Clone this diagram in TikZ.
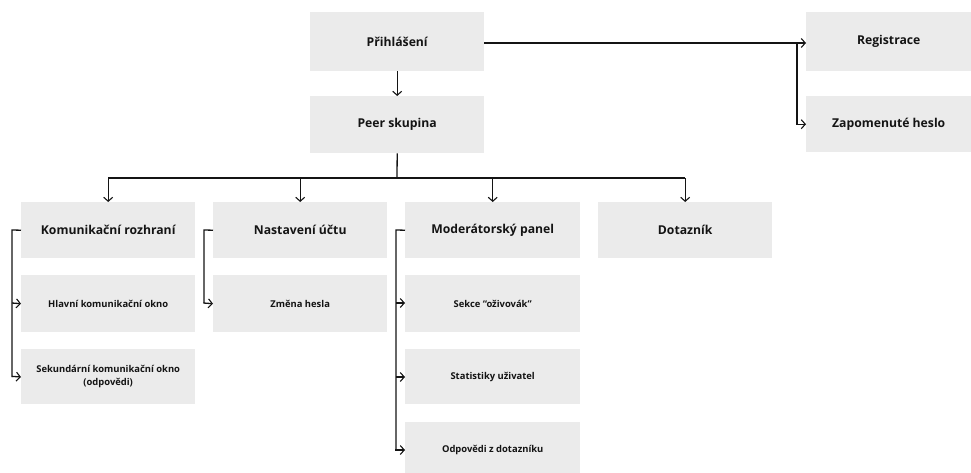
\documentclass[tikz,border=0pt]{standalone}
\usepackage{fontspec}
\setmainfont{Open Sans}
\usetikzlibrary{arrows.meta}
\definecolor{boxgray}{HTML}{EBEBEB}
\definecolor{ink}{HTML}{141414}
\begin{document}
\begin{tikzpicture}[x=1pt,y=-1pt,
  box/.style={fill=boxgray, draw=none, text=ink, font=\bfseries\fontsize{12.2}{15}\selectfont, align=center, inner sep=0pt},
  subbox/.style={box, font=\bfseries\fontsize{9.4}{13}\selectfont},
  link/.style={draw=ink, line width=1.3pt, -{Straight Barb[length=4pt,width=9pt,line width=1.1pt]}},
  plain/.style={draw=ink, line width=1.3pt}]
\useasboundingbox (0,0) rectangle (971,472);
% boxes are drawn as rectangles with the label node at their centre
\newcommand{\boxat}[6]{%
  \fill[boxgray] (#1,#2) rectangle (#3,#4);
  \node[#6, fill=none, minimum width=#3pt-#1pt, minimum height=#4pt-#2pt, anchor=north west] (#5) at (#1,#2) {};}
\boxat{310}{12}{484}{71}{prihl}{box}
\node[box, fill=none] at (prihl.center) {Přihlášení};
\boxat{310}{96}{484}{153}{peer}{box}
\node[box, fill=none] at (peer.center) {Peer skupina};
\boxat{806}{12}{971}{71}{reg}{box}
\node[box, fill=none] at (reg.center) {Registrace};
\boxat{806}{96}{971}{152}{zap}{box}
\node[box, fill=none] at (zap.center) {Zapomenuté heslo};

\boxat{21}{202}{195}{258}{kom}{box}
\node[box, fill=none] at (kom.center) {Komunikační rozhraní};
\boxat{213}{202}{387}{258}{nast}{box}
\node[box, fill=none] at (nast.center) {Nastavení účtu};
\boxat{405}{202}{580}{258}{mod}{box}
\node[box, fill=none] at (mod.center) {Moderátorský panel};
\boxat{598}{202}{772}{258}{dot}{box}
\node[box, fill=none] at (dot.center) {Dotazník};

\boxat{21}{275}{195}{332}{hlav}{subbox}
\node[subbox, fill=none] at (hlav.center) {Hlavní komunikační okno};
\boxat{21}{349}{195}{404}{sek}{subbox}
\node[subbox, fill=none] at (sek.center) {Sekundární komunikační okno\\(odpovědi)};
\boxat{213}{275}{387}{332}{zmena}{subbox}
\node[subbox, fill=none] at (zmena.center) {Změna hesla};
\boxat{405}{275}{580}{332}{sekce}{subbox}
\node[subbox, fill=none] at (sekce.center) {Sekce “oživovák”};
\boxat{405}{349}{580}{404}{stat}{subbox}
\node[subbox, fill=none] at (stat.center) {Statistiky uživatel};
\boxat{405}{422}{580}{478}{odp}{subbox}
\node[subbox, fill=none] at (odp.center) {Odpovědi z dotazníku};

% login flow
\draw[link] (prihl.south) -- (peer.north);
\draw[link] (prihl.east |- 0,43) -- (reg.west |- 0,43);
\coordinate (rb) at (797,43);
\draw[link] (rb) |- (zap.west);

% fan-out from the peer group
\coordinate (bar) at (397,178);
\draw[plain] (peer.south) -- (bar);
\draw[plain] (kom.north |- bar) -- (dot.north |- bar);
\foreach \n in {kom,nast,mod,dot} \draw[link] (\n.north |- bar) -- (\n.north);

% side branches
\draw[plain] (kom.west) -- (12,230) -- (12,377);
\draw[link] (12,303) -- (hlav.west);
\draw[link] (12,376.35) -- (sek.west |- 0,377);
\draw[plain] (nast.west) -- (204,230) -- (204,303);
\draw[link] (203.35,303) -- (zmena.west);
\draw[plain] (mod.west) -- (396,230) -- (396,450);
\draw[link] (396,303) -- (sekce.west |- 0,303);
\draw[link] (396,377) -- (stat.west |- 0,377);
\draw[link] (395.35,450) -- (odp.west |- 0,450);
\end{tikzpicture}
\end{document}
